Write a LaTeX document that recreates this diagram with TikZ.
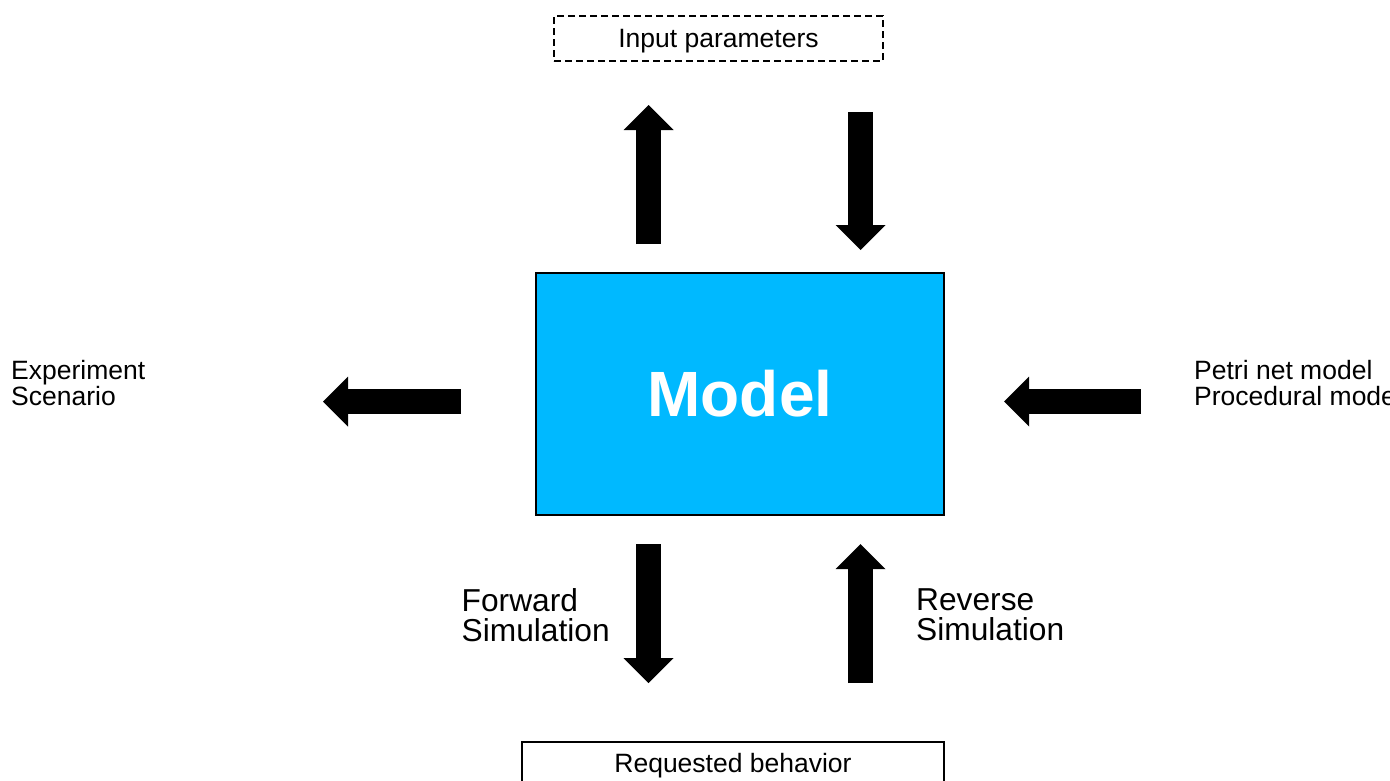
\documentclass[tikz,border=0pt]{standalone}
\usepackage{fontspec}
\setmainfont{Liberation Sans}
\usetikzlibrary{arrows.meta}
\definecolor{modelblue}{RGB}{0,185,255}
\tikzset{
  blockarrow/.style={line width=25pt,
    -{Triangle[width=50pt,length=25pt,line width=0pt]}},
  label26/.style={inner sep=0pt, align=left, anchor=west,
    font=\fontsize{26.5}{26}\selectfont},
  label32/.style={inner sep=0pt, align=left, anchor=west,
    font=\fontsize{31.7}{30}\selectfont},
  framebox/.style={draw=black, line width=1.3pt, inner sep=0pt,
    font=\fontsize{26.5}{26}\selectfont}
}
\begin{document}
\begin{tikzpicture}[x=1pt,y=-1pt]
  \useasboundingbox (0,0) rectangle (1390,780);
  \clip (0,0) rectangle (1390,780);

  % central model block
  \node[draw=black, line width=1.3pt, fill=modelblue, minimum width=408pt,
        minimum height=242pt, inner sep=0pt, text=white,
        font=\fontsize{64}{64}\selectfont\bfseries] (model) at (740,394) {Model};

  % input and output boxes
  \node[framebox, dash pattern=on 7pt off 4pt, minimum width=329pt,
        minimum height=45pt, text height=24pt, text depth=5.5pt]
        (input) at (718.5,38.5) {Input parameters};
  \node[framebox, minimum width=422pt, minimum height=44pt,
        text height=23.5pt, text depth=5.7pt]
        (behav) at (733,764) {Requested behavior};

  % side labels
  \node[label26] (exp) at (11,383) {Experiment\\Scenario};
  \node[label26] (petri) at (1194,383) {Petri net model\\Procedural model};
  \node[label32] (fwd) at (461.5,615) {Forward\\Simulation};
  \node[label32] (rev) at (916,615) {Reverse\\Simulation};

  % arrow end points
  \coordinate (a1s) at (648.5,244);   \coordinate (a1e) at (648.5,105);
  \coordinate (a2s) at (860.5,112);   \coordinate (a2e) at (860.5,250);
  \coordinate (a3s) at (461,401.5);   \coordinate (a3e) at (323,401.5);
  \coordinate (a4s) at (1141,401.5);  \coordinate (a4e) at (1004,401.5);
  \coordinate (a5s) at (648.5,544);   \coordinate (a5e) at (648.5,683);
  \coordinate (a6s) at (860.5,683);   \coordinate (a6e) at (860.5,544);

  % block arrows
  \draw[blockarrow] (a1s) -- (a1e);
  \draw[blockarrow] (a2s) -- (a2e);
  \draw[blockarrow] (a3s) -- (a3e);
  \draw[blockarrow] (a4s) -- (a4e);
  \draw[blockarrow] (a5s) -- (a5e);
  \draw[blockarrow] (a6s) -- (a6e);
\end{tikzpicture}
\end{document}
